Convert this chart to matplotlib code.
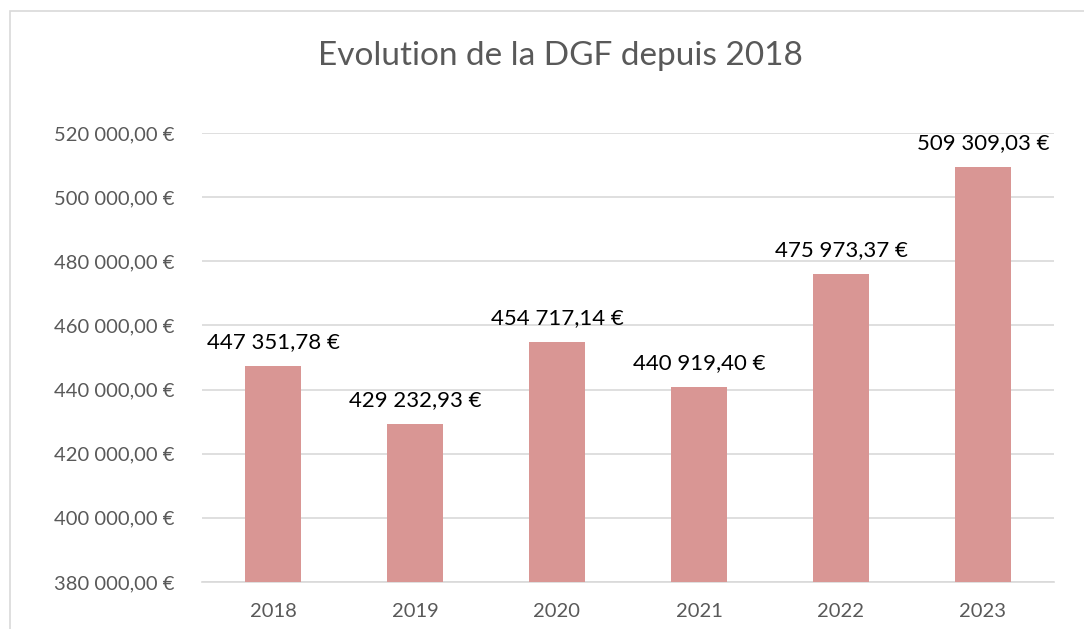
import matplotlib
matplotlib.use("Agg")
import matplotlib.pyplot as plt
from matplotlib.patches import Rectangle
from matplotlib.ticker import FuncFormatter

years = ["2018", "2019", "2020", "2021", "2022", "2023"]
values = [447351.78, 429232.93, 454717.14, 440919.40, 475973.37, 509309.03]
title = "Evolution de la DGF depuis 2018"

plt.rcParams['font.family'] = ['Lato', 'DejaVu Sans']

def fmt(v):
    s = f"{v:,.2f}"
    s = s.replace(",", " ").replace(".", ",")
    return s + " €"

W, H = 1084, 629
fig = plt.figure(figsize=(W/100, H/100), dpi=100)
fig.patches.append(Rectangle((10/W, -0.1), 1.2, 1 - 11/H + 0.1, transform=fig.transFigure,
                             fill=False, edgecolor="#D9D9D9", linewidth=1.2))

ax = fig.add_axes([202/W, 1 - 582/H, (1054-202)/W, (582-133)/H])
x = range(len(years))
bars = ax.bar(x, values, width=0.394, color="#D99694", zorder=3)
ax.set_ylim(380000, 520000)
ax.set_xlim(-0.5, len(years) - 0.5)
ax.set_yticks(range(380000, 520001, 20000))
ax.yaxis.set_major_formatter(FuncFormatter(lambda v, p: fmt(v)))
ax.set_xticks(list(x))
ax.set_xticklabels(years)
ax.grid(axis='y', color="#D9D9D9", linewidth=1.2, zorder=0)
for s in ["top", "right", "left"]:
    ax.spines[s].set_visible(False)
ax.spines["bottom"].set_color("#D9D9D9")
ax.spines["bottom"].set_linewidth(1.2)
ax.tick_params(axis='both', length=0, labelcolor="#595959")
ax.tick_params(axis='y', pad=20, labelsize=14.5)
ax.tick_params(axis='x', pad=15, labelsize=14.5)

for xi, v in zip(x, values):
    ax.annotate(fmt(v), (xi, v), xytext=(0, 10), textcoords="offset points",
                ha="center", va="bottom", fontsize=16, color="black")

fig.text(560/W, 1 - 56/H, title, ha="center", va="center", fontsize=24, color="#595959")

fig.savefig("out.png", dpi=100)
